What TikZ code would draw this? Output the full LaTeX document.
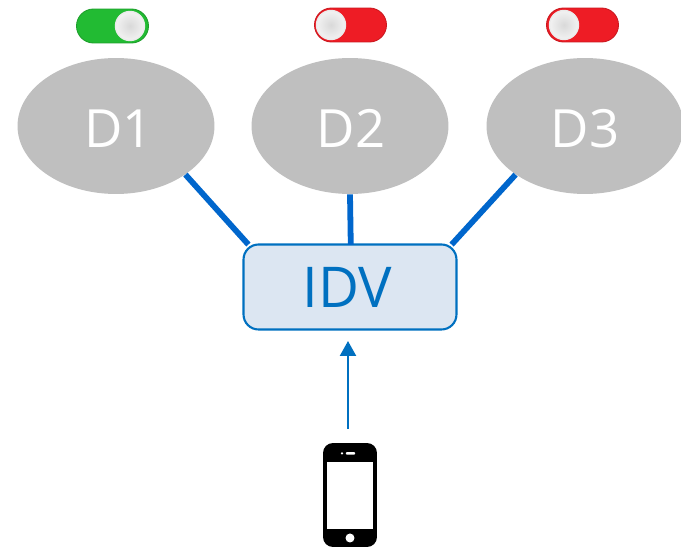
\documentclass[tikz,border=0pt]{standalone}
\usepackage{fontspec}
\setmainfont{Open Sans}
\usetikzlibrary{arrows.meta}
\usetikzlibrary{shapes.geometric}
\usetikzlibrary{shapes.misc}
\definecolor{diskgrey}{HTML}{BFBFBF}
\definecolor{linkblue}{HTML}{0066CC}
\definecolor{idvblue}{HTML}{0070C0}
\definecolor{idvfill}{HTML}{DCE6F2}
\definecolor{ongreen}{HTML}{22BB33}
\definecolor{offred}{HTML}{EE1C25}
\tikzset{
    disk/.style={ellipse,fill=diskgrey,text=white,inner sep=0pt,minimum width=3.94cm,minimum height=2.72cm,text height=25pt,text depth=0pt,font=\fontsize{30}{30}\selectfont},
    link/.style={draw=linkblue,line width=3.3pt,shorten >=-0.03cm},
    toggle/.style={rounded rectangle,inner sep=0pt,minimum width=1.44cm,minimum height=0.68cm},
    knob/.style={circle,shade,inner color=black!15,outer color=black!5,draw=black!8,line width=0.8pt,inner sep=0pt,minimum size=0.58cm},
}
\begin{document}
\begin{tikzpicture}[x=0.02cm,y=-0.02cm]
    \useasboundingbox (0,0) rectangle (681,547);

    \node[disk] (D1) at (116,126) {\hspace*{0.1cm}D1};
    \node[disk] (D2) at (350,126) {\hspace*{0.05cm}D2};
    \node[disk] (D3) at (585,126) {D3};

    \node[rectangle,rounded corners=0.3cm,draw=idvblue,fill=idvfill,line width=1.2pt,text=idvblue,minimum width=4.26cm,minimum height=1.7cm,inner sep=0pt,font=\fontsize{32}{32}\selectfont] (IDV) at (350,287) {IDV\hspace*{0.1cm}};

    \draw[link] (D1.-35) -- (IDV.157);
    \draw[link] (D2.south) -- (IDV.89);
    \draw[link] (D3.215) -- (IDV.23);

    % switches
    \node[toggle,fill=ongreen,draw=ongreen!85!black,line width=0.5pt] (S1) at (112.5,26) {};
    \node[knob] (K1) at (130,26) {};
    \node[toggle,fill=offred,draw=offred!85!black,line width=0.5pt] (S2) at (350.5,25) {};
    \node[knob] (K2) at (331,25) {};
    \node[toggle,fill=offred,draw=offred!85!black,line width=0.5pt] (S3) at (582.5,25) {};
    \node[knob] (K3) at (564,25) {};

    % phone
    \node[rectangle,rounded corners=0.2cm,fill=black,minimum width=1.08cm,minimum height=2.08cm,inner sep=0pt] (phone) at (350,495) {};
    \node[rectangle,fill=white,minimum width=0.92cm,minimum height=1.34cm,inner sep=0pt] (screen) at (350,495.5) {};
    \node[rectangle,rounded corners=0.02cm,fill=white,minimum width=0.19cm,minimum height=0.05cm,inner sep=0pt] (speaker) at (350.5,453.5) {};
    \node[circle,fill=white,minimum size=0.05cm,inner sep=0pt] (camera) at (342,453.5) {};
    \node[circle,fill=white,minimum size=0.18cm,inner sep=0pt] (home) at (350,538) {};

    \coordinate (tail) at (348,429);
    \coordinate (head) at (348,341);
    \draw[-{Triangle[length=0.3cm,width=0.32cm]},draw=idvblue,fill=idvblue,line width=1.3pt] (tail) -- (head);
\end{tikzpicture}
\end{document}
